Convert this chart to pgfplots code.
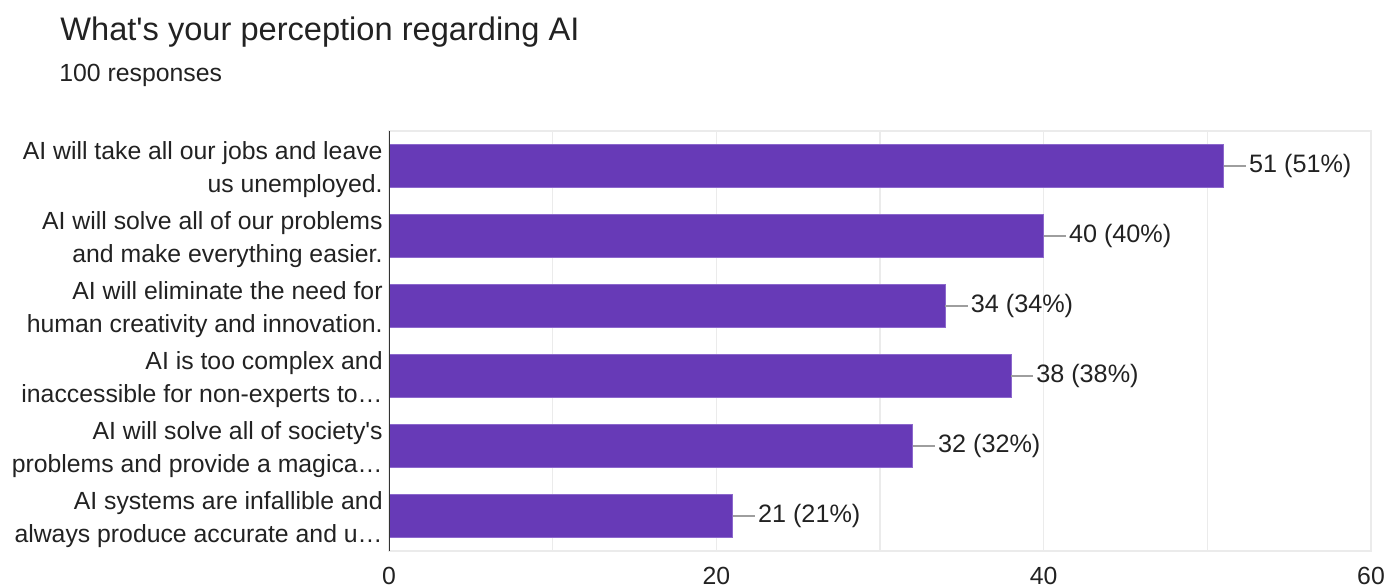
\documentclass[border=0pt]{standalone}
\usepackage{fontspec}
\setmainfont{Liberation Sans}
\usepackage{pgfplots}
\pgfplotsset{compat=1.18}
\definecolor{barpurple}{HTML}{673AB7}
\definecolor{baredge}{HTML}{8C68CC}
\definecolor{txt}{HTML}{222222}
\definecolor{gridc}{HTML}{EBEBEB}
\definecolor{leader}{HTML}{9E9E9E}
\begin{document}
\begin{tikzpicture}[x=1pt,y=1pt]
\path[use as bounding box] (0,0) rectangle (693.5,294);
\node[anchor=base west, inner sep=0pt, font=\fontsize{16.3}{19}\selectfont, text=txt] at (30,273.5) {What\textquotesingle s your perception regarding AI};
\node[anchor=base west, inner sep=0pt, font=\fontsize{12.4}{14}\selectfont, text=txt] at (29.5,253) {100 responses};
\begin{axis}[
  at={(194.5pt,18.5pt)}, anchor=south west,
  width=491pt, height=210pt, scale only axis,
  xmin=0, xmax=60, ymin=-0.5, ymax=5.5, y dir=reverse,
  xbar, bar width=21.5pt,
  /pgf/number format/assume math mode=true,
  xtick={0,20,40,60}, minor xtick={10,30,50},
  xmajorgrids, xminorgrids,
  major grid style={gridc, line width=0.6pt},
  minor grid style={gridc, line width=0.6pt},
  major tick length=0pt, minor tick length=0pt,
  axis line style={gridc, line width=1pt},
  ytick={0,1,2,3,4,5},
  yticklabels={
    {AI will take all our jobs and leave\\us unemployed.},
    {AI will solve all of our problems\\and make everything easier.},
    {AI will eliminate the need for\\human creativity and innovation.},
    {AI is too complex and\\inaccessible for non-experts to…},
    {AI will solve all of society\textquotesingle s\\problems and provide a magica…},
    {AI systems are infallible and\\always produce accurate and u…}},
  yticklabel style={align=right, font=\fontsize{12.4}{16.5}\selectfont, text=txt, inner sep=0pt, xshift=-3pt, yshift=-1.8pt},
  xticklabel style={anchor=base, inner sep=0pt, font=\fontsize{12.4}{14}\selectfont, text=txt, yshift=-16.8pt},
  point meta=x,
  nodes near coords={\pgfmathprintnumber{\pgfplotspointmeta} (\pgfmathprintnumber{\pgfplotspointmeta}\%)},
  nodes near coords style={anchor=west, inner sep=0pt, xshift=12.5pt, font=\fontsize{12.6}{14}\selectfont, text=txt},
]
\addplot[fill=barpurple, draw=baredge, line width=0.4pt,
  error bars/.cd, x dir=plus, x fixed=1.35, error mark=none,
  error bar style={leader, line width=0.6pt}]
  coordinates {(51,0) (40,1) (34,2) (38,3) (32,4) (21,5)};
\draw[color=black!80, line width=1pt] (rel axis cs:0,0) -- (rel axis cs:0,1);
\end{axis}
\end{tikzpicture}
\end{document}
